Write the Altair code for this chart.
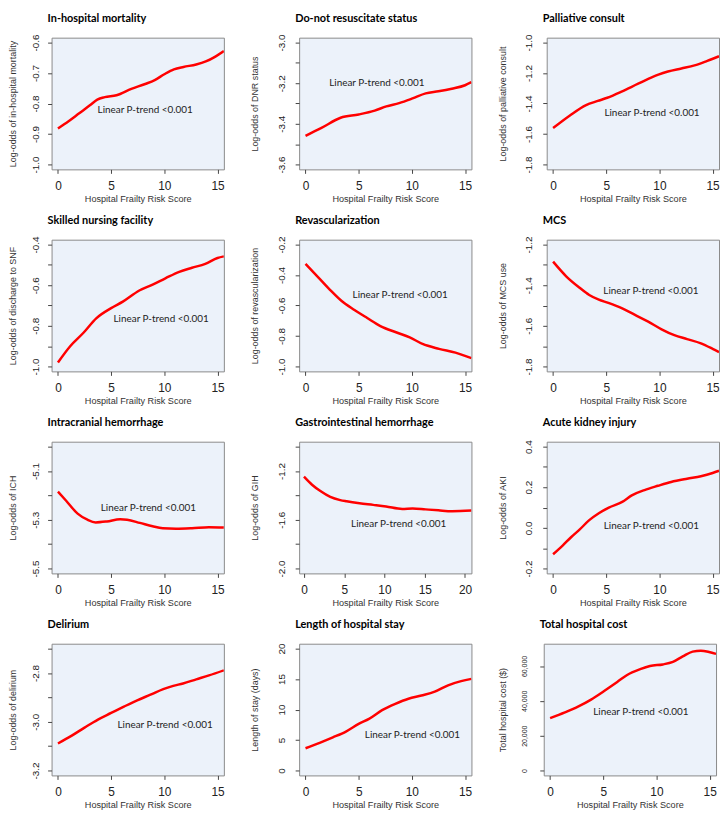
import json
import altair as alt
import pandas as pd

X_TITLE = "Hospital Frailty Risk Score"
TREND = "Linear P-trend <0.001"

TITLES = ["In-hospital mortality", "Do-not resuscitate status", "Palliative consult",
          "Skilled nursing facility", "Revascularization", "MCS",
          "Intracranial hemorrhage", "Gastrointestinal hemorrhage", "Acute kidney injury",
          "Delirium", "Length of hospital stay", "Total hospital cost"]
Y_TITLES = ["Log-odds of in-hospital mortality", "Log-odds of DNR status", "Log-odds of palliative consult",
            "Log-odds of discharge to SNF", "Log-odds of revascularization", "Log-odds of MCS use",
            "Log-odds of ICH", "Log-odds of GIH", "Log-odds of AKI",
            "Log-odds of delirium", "Length of stay (days)", "Total hospital cost ($)"]

MORT_X = [0, 1, 2, 3, 3.7, 4.4, 5.5, 6.9, 8.2, 9.1, 10, 10.9, 11.8, 13, 13.9, 14.8, 15.6]
MORT_Y = [-0.882, -0.858, -0.832, -0.806, -0.787, -0.779, -0.773, -0.752, -0.736, -0.723, -0.704,
          -0.688, -0.68, -0.672, -0.662, -0.646, -0.628]
DNR_X = [0, 1.5, 3.3, 5, 6.5, 7.6, 8.8, 10.06, 11.3, 12.5, 13.75, 15, 15.6]
DNR_Y = [-3.459, -3.42, -3.37, -3.354, -3.335, -3.314, -3.298, -3.275, -3.25, -3.24, -3.227, -3.21, -3.195]
PAL_X = [0, 1.55, 3.1, 4.2, 5.1, 6.5, 8.0, 9.9, 10.8, 12.06, 13.3, 14.5, 15.6]
PAL_Y = [-1.561, -1.48, -1.41, -1.383, -1.362, -1.32, -1.27, -1.21, -1.19, -1.17, -1.15, -1.12, -1.09]
SNF_X = [0, 1.15, 2.4, 3.6, 5.0, 6.1, 7.65, 8.9, 10.1, 11.4, 12.6, 13.85, 15, 15.6]
SNF_Y = [-0.98, -0.90, -0.834, -0.763, -0.713, -0.681, -0.626, -0.597, -0.566, -0.534, -0.514, -0.495,
         -0.466, -0.458]
REV_X = [0, 1.22, 2.3, 3.37, 4.6, 5.8, 7.04, 8.57, 9.8, 11.0, 12.55, 14.1, 15.6]
REV_Y = [-0.327, -0.417, -0.497, -0.569, -0.629, -0.682, -0.735, -0.777, -0.809, -0.852, -0.884, -0.909, -0.945]
MCS_X = [0, 1.23, 2.46, 3.4, 4.3, 5.2, 6.5, 7.7, 8.9, 10.2, 11.4, 12.6, 13.9, 15, 15.6]
MCS_Y = [-1.284, -1.356, -1.411, -1.448, -1.471, -1.487, -1.514, -1.546, -1.578, -1.617, -1.646, -1.665,
         -1.686, -1.713, -1.729]
ICH_X = [0, 0.77, 1.85, 2.77, 3.54, 4.6, 5.85, 6.5, 7.7, 8.9, 9.85, 11.1, 12.6, 14.2, 15.6]
ICH_Y = [-5.185, -5.222, -5.275, -5.3, -5.311, -5.307, -5.298, -5.3, -5.313, -5.327, -5.335, -5.337,
         -5.335, -5.331, -5.332]
GIH_X = [0, 1.0, 2.04, 3.27, 4.5, 5.3, 6.9, 8.6, 10.2, 12.2, 13.5, 15.1, 16.7, 18.4, 20.8]
GIH_Y = [-1.247, -1.313, -1.365, -1.413, -1.439, -1.449, -1.465, -1.478, -1.491, -1.512, -1.507, -1.515,
         -1.523, -1.53, -1.525]
AKI_X = [0, 0.92, 1.69, 2.46, 3.4, 4.3, 5.24, 6.5, 7.4, 8.6, 9.86, 11.1, 12.6, 13.9, 15, 15.6]
AKI_Y = [-0.13, -0.086, -0.046, -0.01, 0.038, 0.072, 0.1, 0.128, 0.16, 0.186, 0.207, 0.226, 0.242, 0.254,
         0.27, 0.281]
DEL_X = [0, 1.3, 2.5, 3.76, 5.0, 6.2, 7.45, 8.7, 9.9, 10.84, 11.76, 13, 14.2, 15.6]
DEL_Y = [-3.089, -3.057, -3.024, -2.991, -2.964, -2.938, -2.912, -2.889, -2.866, -2.853, -2.843, -2.826,
         -2.81, -2.789]
LOS_X = [0, 1.33, 2.57, 3.8, 5.04, 5.97, 7.2, 8.44, 9.68, 10.9, 12.15, 13.4, 14.63, 15.6]
LOS_Y = [3.66, 4.55, 5.44, 6.39, 7.7, 8.48, 9.9, 10.94, 11.78, 12.3, 12.93, 13.98, 14.66, 15.03]
COST_X = [0, 1.39, 2.62, 3.85, 5.08, 6.31, 7.24, 8.47, 9.39, 10.6, 11.55, 12.47, 13.4, 14.17, 14.94, 15.6]
COST_Y = [30093, 33394, 36697, 40734, 45688, 50826, 54862, 58165, 60000, 60917, 62385, 65505, 68257,
          68807, 68073, 66972]

TEXT_X = [8.2, 6.7, 9.3, 9.7, 8.9, 9.2, 8.5, 11.76, 9.24, 10.07, 10.05, 8.53]
TEXT_Y = [-0.82, -3.2, -1.465, -0.768, -0.533, -1.427, -5.251, -1.638, 0.009, -3.014, 5.86, 33761]

X_DOMS = [[-0.6, 15.6]] * 7 + [[-0.6, 20.8]] + [[-0.6, 15.6]] * 4
X_TICKS = [[0, 5, 10, 15]] * 7 + [[0, 5, 10, 15, 20]] + [[0, 5, 10, 15]] * 4

Y_DOMS = [[-1.016, -0.584], [-3.624, -2.976], [-1.832, -0.968],
          [-1.024, -0.376], [-1.032, -0.168], [-1.824, -1.176],
          [-5.52, -4.98], [-2.04, -0.96], [-0.224, 0.424],
          [-3.22, -2.68], [-0.8, 20.8], [-2800, 72800]]
Y_TICKS = [[-1.0, -0.9, -0.8, -0.7, -0.6],
           [-3.6, -3.5, -3.4, -3.3, -3.2, -3.1, -3.0],
           [-1.8, -1.6, -1.4, -1.2, -1.0],
           [-1.0, -0.9, -0.8, -0.7, -0.6, -0.5, -0.4],
           [-1.0, -0.8, -0.6, -0.4, -0.2],
           [-1.8, -1.7, -1.6, -1.5, -1.4, -1.3, -1.2],
           [-5.5, -5.4, -5.3, -5.2, -5.1, -5.0],
           [-2.0, -1.8, -1.6, -1.4, -1.2, -1.0],
           [-0.2, -0.1, 0.0, 0.1, 0.2, 0.3, 0.4],
           [-3.2, -3.1, -3.0, -2.9, -2.8, -2.7],
           [0, 5, 10, 15, 20],
           [0, 20000, 40000, 60000]]
Y_LABELS = [[-1.0, -0.9, -0.8, -0.7, -0.6],
            [-3.6, -3.4, -3.2, -3.0],
            [-1.8, -1.6, -1.4, -1.2, -1.0],
            [-1.0, -0.8, -0.6, -0.4],
            [-1.0, -0.8, -0.6, -0.4, -0.2],
            [-1.8, -1.6, -1.4, -1.2],
            [-5.5, -5.3, -5.1],
            [-2.0, -1.6, -1.2],
            [-0.2, 0.0, 0.2, 0.4],
            [-3.2, -3.0, -2.8],
            [0, 5, 10, 15, 20],
            [0, 20000, 40000, 60000]]
Y_FMT = [".1f"] * 10 + ["d", ",d"]

SERIES_X = [MORT_X, DNR_X, PAL_X, SNF_X, REV_X, MCS_X, ICH_X, GIH_X, AKI_X, DEL_X, LOS_X, COST_X]
SERIES_Y = [MORT_Y, DNR_Y, PAL_Y, SNF_Y, REV_Y, MCS_Y, ICH_Y, GIH_Y, AKI_Y, DEL_Y, LOS_Y, COST_Y]

W, H = 174, 133
BG = "#ECF2FA"
AXIS_FONT = "Liberation Sans"
TXT_FONT = "Lato"


def panel(i):
    col = i % 3
    small = (i == 11)
    lab_size = 7 if small else 10
    if col == 0:
        lpad, tpad = 7, 13
    else:
        lpad, tpad = 9, 17
    if small:
        lpad += 3
        tpad -= 3
    expr = ("indexof(%s, datum.value) >= 0 ? replace(format(datum.value, '%s'), '\u2212', '-') : ''"
            % (json.dumps(Y_LABELS[i]), Y_FMT[i]))
    x_enc = alt.X("x:Q", scale=alt.Scale(domain=X_DOMS[i], nice=False, zero=False),
                  axis=alt.Axis(values=X_TICKS[i], title=X_TITLE, format="d",
                                labelFontSize=12, labelPadding=7, titlePadding=3,
                                titleFontSize=9.2))
    y_enc = alt.Y("y:Q", scale=alt.Scale(domain=Y_DOMS[i], nice=False, zero=False),
                  axis=alt.Axis(values=Y_TICKS[i], title=Y_TITLES[i], labelExpr=expr,
                                labelAngle=270, labelAlign="center", labelBaseline="bottom",
                                labelFontSize=lab_size, labelPadding=lpad, titlePadding=tpad,
                                titleFontSize=9))
    df = pd.DataFrame({"x": SERIES_X[i], "y": SERIES_Y[i]})
    line = alt.Chart(df).mark_line(color="#FF0000", strokeWidth=2.5, interpolate="monotone",
                                   clip=True).encode(x=x_enc, y=y_enc)
    tdf = pd.DataFrame({"x": [TEXT_X[i]], "y": [TEXT_Y[i]], "t": [TREND]})
    txt = alt.Chart(tdf).mark_text(font=TXT_FONT, fontSize=10, color="#222222",
                                   align="center", baseline="middle").encode(x=x_enc, y=y_enc, text="t:N")
    hdf = pd.DataFrame({"h": [TITLES[i]]})
    head = alt.Chart(hdf).mark_text(font=TXT_FONT, fontSize=11, fontWeight="bold", color="#000000",
                                    align="left", baseline="alphabetic").encode(
        x=alt.value(-4), y=alt.value(-16), text="h:N")
    return alt.layer(line, txt, head).properties(width=W, height=H)


rows = [alt.hconcat(*[panel(r * 3 + c) for c in range(3)], spacing=25) for r in range(4)]
chart = alt.vconcat(*rows, spacing=10).properties(
    padding={"left": 0, "right": 0, "top": 0, "bottom": 0}
).configure_view(fill=BG, stroke="#8a8a8a", strokeWidth=1).configure_axis(
    grid=False, domain=False, tickSize=4, tickColor="#444444", tickWidth=1,
    labelFont=AXIS_FONT, labelColor="#222222", titleFont=AXIS_FONT, titleColor="#333333",
    titleFontWeight="normal"
)

chart.save("out.html", embed_options={"renderer": "svg", "actions": False})
